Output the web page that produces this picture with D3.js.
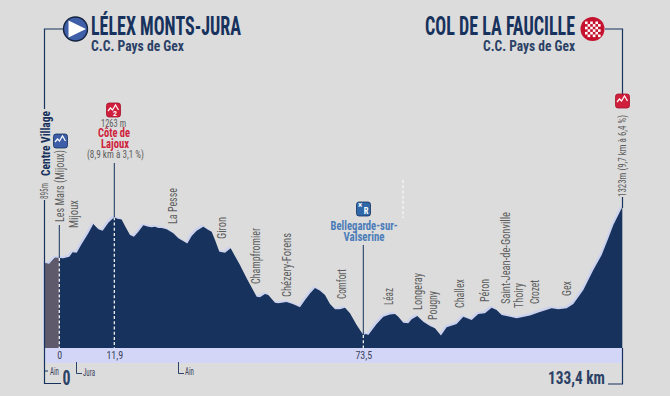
<!DOCTYPE html>
<html><head><meta charset="utf-8">
<script src="https://cdn.jsdelivr.net/npm/d3@7"></script>
<style>
html,body{margin:0;padding:0;background:#dcdcdc}
svg{display:block}
text{font-family:"Liberation Sans Narrow","Roboto Condensed","Liberation Sans",sans-serif}
</style></head><body>
<svg id="c" width="670" height="396"></svg>
<script>
const profileKm=[-3.17,-2.16,-0.93,0,0.87,2.17,2.89,3.76,4.84,6.28,7.36,8.45,9.38,10.61,11.69,11.9,12.65,13.72,14.55,15.78,16.77,17.85,19.08,20.32,21.14,21.97,22.79,23.62,24.86,26.5,27.74,29.97,31.04,32.28,33.93,35.17,35.99,36.82,37.89,39.3,40.69,42.99,44.64,47.12,47.94,49.18,50,51.65,52.48,54.54,56.19,57.84,59.08,60.31,61.55,62.79,64.02,65.26,66.5,67.73,68.97,70.21,71.86,73.5,74.12,74.66,76.58,78.13,79.67,80.82,81.6,82.75,83.91,84.68,85.99,87.37,88.92,90.07,91.46,92.78,95.09,96.63,98.56,100.1,101.64,103.18,104.34,105.5,107.42,108.97,110.12,112.05,113.98,117.06,118.6,120.53,122.07,124.39,126.7,128.63,130.17,131.33,133.4];
const profileElev=[847,841,898,895,892,907,946,943,1021,1118,1202,1154,1142,1214,1256,1263,1250,1244,1184,1103,1088,1133,1190,1178,1172,1178,1166,1166,1154,1118,1073,1027,1094,1142,1178,1148,1133,1057,952,943,982,831,711,545,539,569,560,491,485,497,476,449,515,575,624,599,560,479,431,431,446,395,289,199,208,199,298,364,383,389,364,310,304,340,370,319,280,259,193,268,298,364,334,389,395,446,425,380,364,349,358,376,401,440,431,440,479,606,786,922,1073,1193,1323];
const placeNames=["Les Mars (Mijoux)","Mijoux","La Pesse","Giron","Champfromier","Chézery-Forens","Comfort","Léaz","Longeray","Pougny","Challex","Péron","Saint-Jean-de-Gonville","Thoiry","Crozet","Gex"];
const placeKm=[0,3.2,26.4,38.6,47,54.5,68.3,79.5,86,89.6,95.9,101.6,106.4,109.5,113.1,120.5];
const markedKm=[0,11.9,73.5];
const markedLabels=["0","11,9","73,5"];
const stageStart="LÉLEX MONTS-JURA", stageEnd="COL DE LA FAUCILLE", hostName="C.C. Pays de Gex";

// layout (not data)
const placeLabelBottom=[222,228,224,239,284,297,299,305,310,320,308,302,304,308,304,296];
const placeLabelLength=[72,28,36,22,56,64,30,17,37,29,29,23,92,25,24,15];
const NAVY="#17325c",GREY="#5d5d5d",RED="#cf1f3c",BLUE="#4b7cb8",HALO="#ccd2ee",BAND="#d3d6f6";

const svg=d3.select("#c");
svg.append("rect").attr("width",670).attr("height",396).attr("fill","#dcdcdc");
const x=d3.scaleLinear().domain([-3.17,0,11.9,73.5,133.4]).range([44.5,59.3,114.3,363.3,622.3]);
const y=d3.scaleLinear().domain([81,1263,1323]).range([348,217.3,207]);
const area=d3.area().x((d,i)=>x(profileKm[i])).y0(y(81)).y1((d,i)=>y(d));
const startIdx=profileKm.indexOf(0);

svg.append("rect").attr("x",x(-3.17)).attr("y",348).attr("width",x(133.4)-x(-3.17)).attr("height",15).attr("fill",BAND);
svg.append("path").attr("d",area(profileElev)).attr("fill",HALO).attr("transform","translate(-1.5,-2)");
svg.append("path").attr("d",area(profileElev)).attr("fill",NAVY);
const preKm=profileKm.slice(0,startIdx+1);
svg.append("path").attr("fill","#5e5a6c").attr("d",
 d3.area().x((d,i)=>x(preKm[i])).y0(y(81)).y1((d,i)=>y(profileElev[i]))(preKm));

function line(p,c,w,dash){const s=svg.append("path").attr("d",d3.line()(p)).attr("fill","none").attr("stroke",c||NAVY).attr("stroke-width",w||1.2);if(dash)s.attr("stroke-dasharray",dash);return s;}
function txt(t,px,py,o={}){const s=svg.append("text").text(t).attr("x",px).attr("y",py).attr("fill",o.c||GREY).attr("font-size",o.s||10).attr("font-weight",o.w||400).attr("text-anchor",o.a||"middle");
 if(o.tl)s.attr("textLength",o.tl).attr("lengthAdjust","spacingAndGlyphs");return s;}
function vtxt(t,px,py,o={}){const g=svg.append("g").attr("transform",`translate(${px},${py}) rotate(-90)`);
 const s=g.append("text").text(t).attr("fill",o.c||GREY).attr("font-size",o.s||10).attr("font-weight",o.w||400).attr("dy","0.35em");
 if(o.tl)s.attr("textLength",o.tl).attr("lengthAdjust","spacingAndGlyphs");return s;}

// frame lines
line([[64,29],[44.5,29],[44.5,109]]);
line([[44.5,200],[44.5,348]],NAVY,1.2);
line([[44.5,348],[44.5,383.5],[61,383.5]],NAVY,1.2);
line([[44.5,371],[48,371]],NAVY,1);
line([[605,29],[622.5,29],[622.5,94]]);
line([[622.5,197],[622.5,208]]);
line([[622.5,348],[622.5,384],[608,384]],NAVY,1.2);

// dashed & solid markers
markedKm.forEach((k,i)=>{
 const idx=profileKm.indexOf(k);
 const top=y(profileElev[idx]);
 line([[x(k),i==2?335:top],[x(k),348]],"#fff",1.2,"3,2.2");
});
line([[x(0),225],[x(0),y(895)]],NAVY,1);
line([[x(11.9),163],[x(11.9),y(1263)]],NAVY,1);
line([[x(73.5),245],[x(73.5),335]],NAVY,1);
line([[403,180],[403,218]],"#fff",1,"3,2.2");

// km axis
const axis=d3.axisBottom(x).tickValues(markedKm).tickFormat((d,i)=>markedLabels[i]).tickSize(0).tickPadding(0);
const ag=svg.append("g").attr("transform","translate(0,352)").call(axis);
ag.select(".domain").remove();
ag.selectAll("text").attr("fill","#3c4560").attr("font-size",10).attr("font-family",'"Liberation Sans Narrow",sans-serif');

// places
placeNames.forEach((n,i)=>vtxt(n,x(placeKm[i]),placeLabelBottom[i],{s:12,c:GREY,tl:placeLabelLength[i]}));

// titles
txt(stageStart,91,35,{a:"start",s:25,w:700,c:NAVY,tl:150});
txt(hostName,91,51,{a:"start",s:15,w:700,c:"#2b4166",tl:93});
txt(stageEnd,575,35,{a:"end",s:25,w:700,c:NAVY,tl:150});
txt(hostName,575,51,{a:"end",s:15,w:700,c:"#2b4166",tl:92});

// start icon
svg.append("circle").attr("cx",75.5).attr("cy",29).attr("r",12).attr("fill","#3f5fa8").attr("stroke","#14243f").attr("stroke-width",1.4);
svg.append("path").attr("d","M68.5,20.5 L86,29 L68.5,37.5 Z").attr("fill","#fff");
// finish icon
svg.append("circle").attr("cx",592.5).attr("cy",29).attr("r",12).attr("fill","#c4122f");
for(let r=0;r<6;r++)for(let c=0;c<6;c++){ if((r+c)%2)continue;
 const px=585+c*2.6,py=21.5+r*2.6;
 if(Math.hypot(px+1.3-592.5,py+1.3-29)<10.5)svg.append("rect").attr("x",px).attr("y",py).attr("width",2.6).attr("height",2.6).attr("fill","#fff");}

function badge(cx,cy,fill,label){
 svg.append("rect").attr("x",cx-7).attr("y",cy-7).attr("width",14).attr("height",14).attr("rx",2.5).attr("fill",fill).attr("stroke",fill==RED?"#a5122c":"#14305c").attr("stroke-width",.8);
 svg.append("path").attr("d",`M${cx-5.5},${cy+1} L${cx-3},${cy-2} L${cx-1},${cy} L${cx+2},${cy-5} L${cx+5},${cy}`).attr("fill","none").attr("stroke","#fff").attr("stroke-width",1.2);
 if(label)txt(label,cx+1.5,cy+6,{c:"#fff",s:8,w:700});
}
badge(113.5,110,RED,"2");
badge(622.5,101,RED,"");
badge(60.5,141,"#3d5da8","");
svg.append("rect").attr("x",356.5).attr("y",202).attr("width",14).attr("height",14).attr("rx",2.5).attr("fill","#2f68a8").attr("stroke","#14305c").attr("stroke-width",.8);
txt("×",360,208,{c:"#fff",s:9,w:700});
txt("R",366,214,{c:"#fff",s:8.5,w:700});

// Côte de Lajoux
txt("1263 m",113.5,127,{s:11,tl:25});
txt("Côte de",114,137,{s:12,w:700,c:RED,tl:32});
txt("Lajoux",115,148,{s:12,w:700,c:RED,tl:28});
txt("(8,9 km à 3,1 %)",115.5,158,{s:11,tl:57});

// vertical start/finish
vtxt("895m",44.5,199,{s:10,tl:16});
vtxt("Centre Village",45.5,176,{s:13,w:700,c:NAVY,tl:65});
vtxt("1323m  (9,7 km à 6,4 %)",622.5,197,{s:11,tl:82});

// Bellegarde
txt("Bellegarde-sur-",364,230,{s:12.5,w:700,c:BLUE,tl:67});
txt("Valserine",364,241,{s:12.5,w:700,c:BLUE,tl:41});

// departments
line([[76.5,362],[76.5,373.5],[82,373.5]],NAVY,.9);
line([[178.5,362],[178.5,373.5],[184,373.5]],NAVY,.9);
txt("Ain",50,375,{a:"start",s:11,c:"#3c4560",tl:9});
txt("Jura",83,376,{a:"start",s:11,c:"#3c4560",tl:12});
txt("Ain",185,375,{a:"start",s:11,c:"#3c4560",tl:9});
txt("0",66.5,385,{s:20,w:700,c:"#2b4166",tl:8});
txt("133,4 km",576.5,384,{s:19,w:700,c:"#2b4166",tl:57});
</script>
</body></html>
